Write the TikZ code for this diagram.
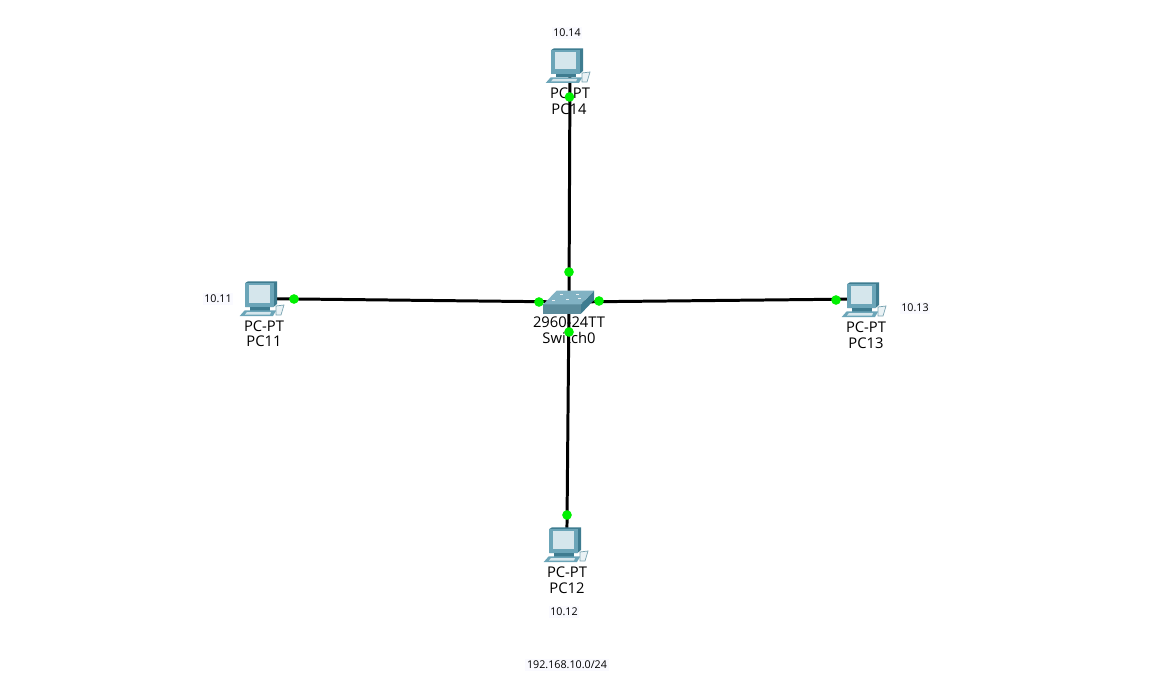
\documentclass[tikz,border=0pt]{standalone}
\usepackage{fontspec}
\setmainfont{Open Sans}

\definecolor{cisco}{HTML}{6BA5B8}
\definecolor{ciscodark}{HTML}{3E7C90}
\definecolor{ciscolight}{HTML}{D5E6EC}
\definecolor{portgreen}{HTML}{00F000}

\tikzset{
    devlabel/.style={inner sep=0pt,font=\fontsize{8.4pt}{9pt}\selectfont},
    addrlabel/.style={inner sep=1pt,fill=blue!2,font=\fontsize{6.1pt}{7pt}\selectfont},
    link/.style={line width=1.7pt,black},
    port/.style={circle,fill=portgreen,inner sep=0pt,minimum size=5.5pt},
    pics/pcicon/.style={code={
        % monitor
        \fill[ciscodark] (6.3,3) -- (9,1.3) -- (38,1.3) -- (38,24) -- (34.5,27) -- (6.3,27) -- cycle;
        \fill[cisco] (6.3,3) rectangle (34.5,27);
        \fill[ciscolight] (9.5,5) rectangle (30.5,22.5);
        % stand and base
        \fill[ciscodark] (11,27) rectangle (31,30.5);
        \fill[cisco] (0.7,36) -- (5.7,30.3) -- (37.3,30.3) -- (34,36) -- cycle;
        \fill[ciscolight] (6,34.5) -- (8,32) -- (32,32) -- (31,34.5) -- cycle;
        % mouse
        \draw[ciscodark!70,fill=ciscolight!50,line width=0.4pt] (37,26) -- (45,25) -- (42,35) -- (37,35) -- cycle;
    }},
}

\begin{document}
\begin{tikzpicture}[x=0.02cm,y=-0.02cm]
\useasboundingbox (0,0) rectangle (1175,689);

% device centres
\coordinate (pc11) at (262,298.6);
\coordinate (pc12) at (566.8,545);
\coordinate (pc13) at (862,299);
\coordinate (pc14) at (570,67);
\coordinate (sw0) at (569,302);

% links
\foreach \pc in {pc11,pc12,pc13,pc14}
    \draw[link] (\pc) -- (sw0);

% PCs
\pic at (239,280) {pcicon};
\pic at (543,526) {pcicon};
\pic at (841,281) {pcicon};
\pic at (545,47) {pcicon};

% switch
\fill[ciscodark] (581,304.3) -- (594,290.7) -- (594,300) -- (581,313.7) -- cycle;
\fill[cisco!85!black] (543.3,304.3) rectangle (581,313.7);
\fill[cisco!85!white] (543.3,304.3) -- (556.7,290.7) -- (594,290.7) -- (581,304.3) -- cycle;
\foreach \x/\y in {560/294,576/294,552/300,566/299,578/297.5}
    \fill[white!85!cisco] (\x,\y) rectangle +(3,1.2);

% device labels
\node[devlabel] (type11) at (264,326) {PC-PT};
\node[devlabel] (name11) at (264,341) {PC11};
\node[devlabel] (type12) at (567,572) {PC-PT};
\node[devlabel] (name12) at (567,588) {PC12};
\node[devlabel] (type13) at (866,327) {PC-PT};
\node[devlabel] (name13) at (866,343) {PC13};
\node[devlabel] (type14) at (570,93) {PC-PT};
\node[devlabel] (name14) at (569,109) {PC14};
\node[devlabel] (typesw) at (569,322) {2960-24TT};
\node[devlabel] (namesw) at (569,338) {Switch0};

% port lights
\foreach \x/\y in {294/299,539/302,599/301,836/300,569.5/97,569/272,569/332,567/515}
    \node[port] at (\x,\y) {};

% addresses
\node[addrlabel] (addr11) at (218,299) {10.11};
\node[addrlabel] (addr12) at (564,612) {10.12};
\node[addrlabel] (addr13) at (915,308) {10.13};
\node[addrlabel] (addr14) at (567,33) {10.14};
\node[addrlabel] (subnet) at (567,665) {192.168.10.0/24};

\end{tikzpicture}
\end{document}
